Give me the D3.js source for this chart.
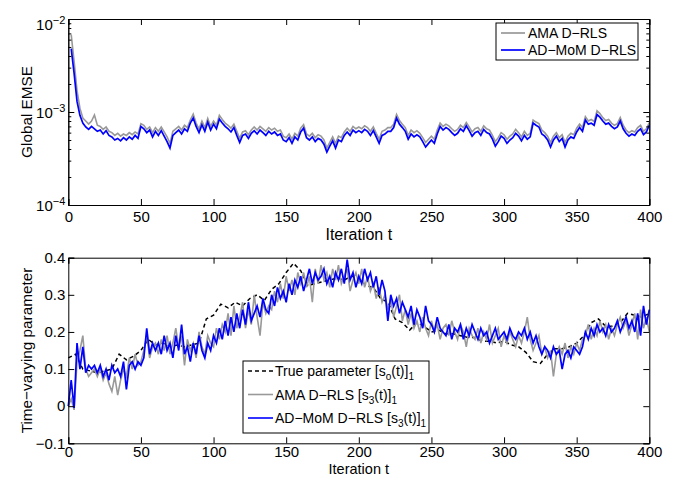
<!DOCTYPE html>
<html>
<head>
<meta charset="utf-8">
<script src="https://cdn.jsdelivr.net/npm/d3@7"></script>
<style>
  body { margin: 0; background: #fff; }
  svg { font-family: "Liberation Sans", Arial, sans-serif; }
</style>
</head>
<body>
<div id="chart"></div>
<script>
// ---- data ----
// top panel: global EMSE, every 2nd iteration
var emseIter = d3.range(2, 401, 2);
var emseAma = [
  6.8e-3, 3.5e-3, 1.7e-3, 1.1e-3, 8.6e-4, 8.0e-4, 7.4e-4, 8.0e-4, 9.3e-4, 7.2e-4,
  7.0e-4, 6.5e-4, 6.9e-4, 6.2e-4, 6.0e-4, 5.6e-4, 5.9e-4, 5.5e-4, 5.8e-4, 5.6e-4,
  6.0e-4, 5.7e-4, 6.1e-4, 5.8e-4, 7.5e-4, 7.2e-4, 6.5e-4, 6.9e-4, 6.0e-4, 6.8e-4,
  6.2e-4, 6.9e-4, 6.1e-4, 5.4e-4, 4.6e-4, 6.2e-4, 6.6e-4, 7.0e-4, 6.4e-4, 7.2e-4,
  6.8e-4, 8.2e-4, 9.5e-4, 7.6e-4, 6.6e-4, 8.0e-4, 6.8e-4, 8.5e-4, 7.0e-4, 8.0e-4,
  7.2e-4, 9.2e-4, 8.3e-4, 7.6e-4, 7.2e-4, 6.7e-4, 7.4e-4, 6.2e-4, 5.2e-4, 6.1e-4,
  6.3e-4, 5.7e-4, 6.4e-4, 6.9e-4, 6.4e-4, 7.0e-4, 6.6e-4, 6.2e-4, 6.8e-4, 6.4e-4,
  6.7e-4, 6.2e-4, 6.4e-4, 5.5e-4, 5.3e-4, 5.8e-4, 5.1e-4, 5.9e-4, 5.5e-4, 6.7e-4,
  7.3e-4, 5.8e-4, 5.5e-4, 5.9e-4, 5.3e-4, 5.7e-4, 5.5e-4, 5.0e-4, 4.1e-4, 4.7e-4,
  5.4e-4, 4.6e-4, 5.5e-4, 5.3e-4, 6.1e-4, 6.7e-4, 6.2e-4, 7.0e-4, 6.6e-4, 6.9e-4,
  6.6e-4, 7.1e-4, 6.8e-4, 6.2e-4, 6.9e-4, 5.9e-4, 5.1e-4, 6.2e-4, 6.4e-4, 6.8e-4,
  6.8e-4, 7.4e-4, 9.4e-4, 8.1e-4, 7.4e-4, 6.8e-4, 5.6e-4, 6.4e-4, 6.0e-4, 6.3e-4,
  5.9e-4, 5.3e-4, 4.7e-4, 5.1e-4, 5.5e-4, 5.1e-4, 6.4e-4, 7.6e-4, 7.0e-4, 7.4e-4,
  7.1e-4, 6.6e-4, 6.2e-4, 6.5e-4, 7.2e-4, 6.8e-4, 7.7e-4, 6.9e-4, 6.1e-4, 6.6e-4,
  6.8e-4, 6.2e-4, 7.1e-4, 6.6e-4, 6.4e-4, 5.6e-4, 4.8e-4, 5.3e-4, 6.0e-4, 5.7e-4,
  5.1e-4, 5.5e-4, 5.8e-4, 6.5e-4, 6.0e-4, 5.4e-4, 6.2e-4, 5.6e-4, 5.9e-4, 8.2e-4,
  7.8e-4, 7.5e-4, 6.4e-4, 6.0e-4, 5.5e-4, 4.7e-4, 5.5e-4, 6.0e-4, 5.3e-4, 5.7e-4,
  4.7e-4, 5.5e-4, 5.9e-4, 5.7e-4, 6.7e-4, 7.4e-4, 6.8e-4, 8.9e-4, 8.0e-4, 8.3e-4,
  7.9e-4, 1.03e-3, 9.6e-4, 8.7e-4, 8.1e-4, 8.3e-4, 7.6e-4, 7.2e-4, 7.5e-4, 8.7e-4,
  7.2e-4, 6.4e-4, 6.0e-4, 6.3e-4, 6.1e-4, 6.8e-4, 7.2e-4, 6.2e-4, 6.6e-4, 7.7e-4
];
var emseAdmom = [
  4.8e-3, 2.6e-3, 1.3e-3, 9.2e-4, 7.6e-4, 6.9e-4, 6.5e-4, 7.0e-4, 6.6e-4, 6.2e-4,
  6.4e-4, 5.8e-4, 6.3e-4, 5.6e-4, 5.4e-4, 5.0e-4, 5.2e-4, 4.9e-4, 5.3e-4, 5.0e-4,
  5.4e-4, 5.1e-4, 5.6e-4, 5.2e-4, 7.0e-4, 6.6e-4, 6.0e-4, 6.4e-4, 5.4e-4, 6.2e-4,
  5.6e-4, 6.3e-4, 5.5e-4, 4.8e-4, 4.1e-4, 5.6e-4, 6.0e-4, 6.4e-4, 5.8e-4, 6.6e-4,
  6.2e-4, 7.6e-4, 8.6e-4, 7.0e-4, 6.0e-4, 7.3e-4, 6.2e-4, 7.8e-4, 6.4e-4, 7.4e-4,
  6.6e-4, 8.4e-4, 7.6e-4, 7.0e-4, 6.6e-4, 6.1e-4, 6.8e-4, 5.6e-4, 4.7e-4, 5.6e-4,
  5.8e-4, 5.2e-4, 5.9e-4, 6.3e-4, 5.8e-4, 6.4e-4, 6.0e-4, 5.6e-4, 6.2e-4, 5.8e-4,
  6.1e-4, 5.6e-4, 5.8e-4, 5.0e-4, 4.8e-4, 5.3e-4, 4.6e-4, 5.4e-4, 5.0e-4, 6.1e-4,
  6.7e-4, 5.3e-4, 5.0e-4, 5.4e-4, 4.8e-4, 5.2e-4, 5.0e-4, 4.5e-4, 3.7e-4, 4.3e-4,
  4.9e-4, 4.1e-4, 5.0e-4, 4.8e-4, 5.6e-4, 6.1e-4, 5.6e-4, 6.4e-4, 6.0e-4, 6.3e-4,
  6.0e-4, 6.5e-4, 6.2e-4, 5.6e-4, 6.3e-4, 5.4e-4, 4.6e-4, 5.6e-4, 5.8e-4, 6.2e-4,
  6.2e-4, 6.8e-4, 8.6e-4, 7.4e-4, 6.8e-4, 6.2e-4, 5.1e-4, 5.8e-4, 5.4e-4, 5.7e-4,
  5.4e-4, 4.8e-4, 4.2e-4, 4.6e-4, 5.0e-4, 4.6e-4, 5.8e-4, 7.0e-4, 6.4e-4, 6.8e-4,
  6.5e-4, 6.0e-4, 5.6e-4, 5.9e-4, 6.6e-4, 6.2e-4, 7.1e-4, 6.3e-4, 5.5e-4, 6.0e-4,
  6.2e-4, 5.6e-4, 6.5e-4, 6.0e-4, 5.8e-4, 5.1e-4, 4.3e-4, 4.8e-4, 5.5e-4, 5.2e-4,
  4.6e-4, 5.0e-4, 5.3e-4, 5.9e-4, 5.5e-4, 4.9e-4, 5.6e-4, 5.1e-4, 5.4e-4, 7.6e-4,
  7.2e-4, 6.9e-4, 5.8e-4, 5.5e-4, 5.0e-4, 4.2e-4, 5.0e-4, 5.5e-4, 4.8e-4, 5.2e-4,
  4.2e-4, 5.0e-4, 5.4e-4, 5.2e-4, 6.1e-4, 6.8e-4, 6.2e-4, 8.2e-4, 7.4e-4, 7.6e-4,
  7.2e-4, 9.4e-4, 8.8e-4, 8.0e-4, 7.4e-4, 7.6e-4, 7.0e-4, 6.6e-4, 6.9e-4, 8.0e-4,
  6.6e-4, 5.9e-4, 5.5e-4, 5.8e-4, 5.6e-4, 6.2e-4, 6.6e-4, 5.7e-4, 6.1e-4, 7.2e-4
];

// bottom panel: true parameter every 5th iteration, estimates every 2nd
var trueIter = d3.range(0, 401, 5);
var trueParam = [
  0.13, 0.14, 0.10, 0.095, 0.09, 0.095, 0.10, 0.14, 0.125, 0.135,
  0.15, 0.18, 0.165, 0.17, 0.16, 0.165, 0.16, 0.165, 0.17, 0.235,
  0.245, 0.275, 0.265, 0.28, 0.27, 0.29, 0.30, 0.285, 0.315, 0.33,
  0.36, 0.385, 0.365, 0.325, 0.33, 0.335, 0.34, 0.345, 0.34, 0.35,
  0.345, 0.325, 0.32, 0.29, 0.28, 0.235, 0.225, 0.205, 0.225, 0.215,
  0.20, 0.205, 0.195, 0.195, 0.19, 0.185, 0.185, 0.175, 0.175, 0.17,
  0.175, 0.165, 0.16, 0.145, 0.12, 0.115, 0.14, 0.155, 0.155, 0.16,
  0.17, 0.19, 0.225, 0.235, 0.215, 0.215, 0.225, 0.25, 0.245, 0.24,
  0.25
];
var estIter = d3.range(0, 401, 2);
var estAma = [
  0.00, 0.02, -0.01, 0.12, 0.15, 0.19, 0.10, 0.08, 0.09, 0.10,
  0.08, 0.10, 0.07, 0.09, 0.06, 0.04, 0.08, 0.03, 0.07, 0.10,
  0.08, 0.13, 0.10, 0.14, 0.11, 0.12, 0.15, 0.19, 0.13, 0.16,
  0.17, 0.14, 0.18, 0.15, 0.19, 0.14, 0.17, 0.21, 0.16, 0.19,
  0.11, 0.18, 0.15, 0.17, 0.13, 0.20, 0.16, 0.14, 0.19, 0.17,
  0.16, 0.21, 0.18, 0.22, 0.20, 0.25, 0.19, 0.27, 0.21, 0.24,
  0.28, 0.21, 0.26, 0.22, 0.30, 0.24, 0.19, 0.28, 0.25, 0.27,
  0.26, 0.31, 0.28, 0.33, 0.29, 0.35, 0.31, 0.34, 0.30, 0.36,
  0.33, 0.36, 0.32, 0.35, 0.28, 0.37, 0.33, 0.38, 0.34, 0.36,
  0.32, 0.37, 0.34, 0.38, 0.33, 0.35, 0.37, 0.31, 0.34, 0.36,
  0.33, 0.37, 0.32, 0.35, 0.31, 0.33, 0.29, 0.32, 0.28, 0.30,
  0.26, 0.29, 0.24, 0.27, 0.30, 0.23, 0.26, 0.22, 0.25, 0.21,
  0.23, 0.20, 0.24, 0.21, 0.19, 0.23, 0.20, 0.22, 0.18, 0.21,
  0.22, 0.19, 0.23, 0.20, 0.18, 0.22, 0.20, 0.16, 0.21, 0.19,
  0.18, 0.21, 0.17, 0.20, 0.18, 0.22, 0.17, 0.19, 0.21, 0.16,
  0.19, 0.17, 0.20, 0.18, 0.16, 0.19, 0.17, 0.20, 0.24, 0.18,
  0.15, 0.17, 0.19, 0.14, 0.16, 0.13, 0.15, 0.08, 0.14, 0.16,
  0.14, 0.17, 0.13, 0.16, 0.14, 0.17, 0.15, 0.18, 0.19, 0.22,
  0.18, 0.21, 0.19, 0.23, 0.20, 0.22, 0.18, 0.21, 0.19, 0.22,
  0.24, 0.21, 0.23, 0.19, 0.22, 0.25, 0.18, 0.26, 0.21, 0.24,
  0.20
];
var estAdmom = [
  0.00, 0.07, -0.005, 0.17, 0.10, 0.16, 0.09, 0.11, 0.10, 0.11,
  0.09, 0.11, 0.08, 0.10, 0.07, 0.11, 0.09, 0.10, 0.08, 0.12,
  0.045, 0.11, 0.12, 0.10, 0.12, 0.11, 0.13, 0.21, 0.14, 0.17,
  0.15, 0.17, 0.14, 0.19, 0.15, 0.17, 0.13, 0.19, 0.15, 0.22,
  0.14, 0.16, 0.12, 0.17, 0.14, 0.19, 0.15, 0.13, 0.17, 0.15,
  0.19, 0.17, 0.21, 0.18, 0.23, 0.19, 0.24, 0.20, 0.25, 0.21,
  0.26, 0.22, 0.28, 0.23, 0.25, 0.27, 0.24, 0.29, 0.26, 0.25,
  0.30, 0.27, 0.32, 0.29, 0.31, 0.28, 0.33, 0.30, 0.34, 0.32,
  0.35, 0.31, 0.34, 0.37, 0.33, 0.36, 0.34, 0.35, 0.37, 0.33,
  0.35, 0.32, 0.36, 0.34, 0.37, 0.33, 0.395, 0.34, 0.36, 0.32,
  0.35, 0.33, 0.37, 0.34, 0.36, 0.32, 0.35, 0.30, 0.34, 0.31,
  0.23, 0.30, 0.27, 0.29, 0.25, 0.28, 0.26, 0.24, 0.27, 0.22,
  0.26, 0.24, 0.21, 0.27, 0.23, 0.22, 0.20, 0.24, 0.21, 0.20,
  0.19, 0.22, 0.18, 0.21, 0.20, 0.22, 0.18, 0.21, 0.19, 0.22,
  0.20, 0.18, 0.21, 0.19, 0.20, 0.17, 0.19, 0.21, 0.18, 0.19,
  0.20, 0.18, 0.21, 0.19, 0.18, 0.20, 0.19, 0.21, 0.18, 0.20,
  0.17, 0.19, 0.16, 0.14, 0.16, 0.15, 0.13, 0.16, 0.14, 0.15,
  0.10, 0.14, 0.15, 0.13, 0.16, 0.15, 0.14, 0.16, 0.20, 0.18,
  0.21, 0.19, 0.22, 0.20, 0.21, 0.19, 0.22, 0.20, 0.21, 0.23,
  0.20, 0.22, 0.24, 0.21, 0.23, 0.20, 0.25, 0.19, 0.27, 0.22,
  0.26
];

var xTicks = [0, 50, 100, 150, 200, 250, 300, 350, 400];
var emseTicks = [1e-4, 1e-3, 1e-2];
var emseTickLabels = ["\u22124", "\u22123", "\u22122"];
var paramTicks = [-0.1, 0, 0.1, 0.2, 0.3, 0.4];
var paramTickLabels = ["\u22120.1", "0", "0.1", "0.2", "0.3", "0.4"];

var grayColor = "#999999", blueColor = "#0000ff";

// ---- layout ----
var W = 679, H = 477;
var plotLeft = 68.3, plotWidth = 581;
var topPanel = {top: 19, height: 186, tickPad: 6, xLabelGap: 34.5, titleFont: "16px"};
var botPanel = {top: 257.7, height: 185.6, tickPad: 3.2, xLabelGap: 30.3, titleFont: "14.5px"};
var tickFont = "15px", yTitleFont = "15.3px", legendFont = "14px";

var svg = d3.select("#chart").append("svg")
    .attr("width", W)
    .attr("height", H);

var x = d3.scaleLinear().domain([0, 400]).range([0, plotWidth]);

// draws the MATLAB style box with inward ticks on all four sides
function drawFrame(g, y, panel, yTicks, minorTicks) {
    var h = panel.height;
    g.append("g")
        .attr("transform", "translate(0," + h + ")")
        .call(d3.axisBottom(x).tickValues(xTicks).tickSize(-6).tickPadding(panel.tickPad).tickFormat(d3.format("d")))
        .call(s => s.selectAll("text").attr("dy", "0.71em"));
    g.append("g")
        .call(d3.axisTop(x).tickValues(xTicks).tickSize(-6).tickFormat(""));
    g.append("g")
        .call(d3.axisLeft(y).tickValues(yTicks).tickSize(-6).tickFormat(""));
    g.append("g")
        .attr("transform", "translate(" + plotWidth + ",0)")
        .call(d3.axisRight(y).tickValues(yTicks).tickSize(-6).tickFormat(""));
    if (minorTicks) {
        g.append("g")
            .call(d3.axisLeft(y).tickValues(minorTicks).tickSize(-3).tickFormat(""));
        g.append("g")
            .attr("transform", "translate(" + plotWidth + ",0)")
            .call(d3.axisRight(y).tickValues(minorTicks).tickSize(-3).tickFormat(""));
    }
    g.selectAll(".domain").attr("stroke", "#000").attr("stroke-width", 1);
    g.selectAll(".tick line").attr("stroke", "#000");
    g.selectAll(".tick text")
        .attr("fill", "#000")
        .style("font-size", tickFont)
        .style("font-family", "\"Liberation Sans\", Arial, sans-serif");
}

// ---- top panel ----
var gTop = svg.append("g")
    .attr("transform", "translate(" + plotLeft + "," + topPanel.top + ")");

var yEmse = d3.scaleLog().domain([1e-4, 1e-2]).range([topPanel.height, 0]);

var emseMinor = [];
[1e-4, 1e-3].forEach(function (dec) {
    [2, 3, 4, 5, 6, 7, 8, 9].forEach(function (m) { emseMinor.push(dec * m); });
});

var emseLine = d3.line()
    .x(function (d) { return x(d[0]); })
    .y(function (d) { return yEmse(d[1]); });

gTop.append("path")
    .datum(d3.zip(emseIter, emseAma))
    .attr("fill", "none")
    .attr("stroke", grayColor)
    .attr("stroke-width", 1.6)
    .attr("d", emseLine);

gTop.append("path")
    .datum(d3.zip(emseIter, emseAdmom))
    .attr("fill", "none")
    .attr("stroke", blueColor)
    .attr("stroke-width", 1.7)
    .attr("d", emseLine);

drawFrame(gTop, yEmse, topPanel, emseTicks, emseMinor);

// power-of-ten labels (the top one sits a little below its tick, as in the figure)
emseTicks.forEach(function (v, i) {
    var t = gTop.append("text")
        .attr("x", -3)
        .attr("y", Math.max(yEmse(v), 5) + 5.5)
        .attr("text-anchor", "end")
        .style("font-size", tickFont);
    t.append("tspan").text("10");
    t.append("tspan").attr("dy", -6).style("font-size", "11px").text(emseTickLabels[i]);
});

gTop.append("text")
    .attr("x", plotWidth / 2)
    .attr("y", topPanel.height + topPanel.xLabelGap)
    .attr("text-anchor", "middle")
    .style("font-size", topPanel.titleFont)
    .text("Iteration t");

svg.append("text")
    .attr("transform", "translate(31.5," + (topPanel.top + topPanel.height / 2) + ") rotate(-90)")
    .attr("text-anchor", "middle")
    .style("font-size", yTitleFont)
    .text("Global EMSE");

// top legend
var legTop = svg.append("g").attr("transform", "translate(496,23)");
legTop.append("rect")
    .attr("width", 142).attr("height", 37)
    .attr("fill", "#fff").attr("stroke", "#000");
var topLegend = [
    {label: "AMA D\u2212RLS", color: grayColor},
    {label: "AD\u2212MoM D\u2212RLS", color: blueColor}
];
topLegend.forEach(function (d, i) {
    var yy = 10 + i * 17;
    legTop.append("line")
        .attr("x1", 5).attr("x2", 29).attr("y1", yy).attr("y2", yy)
        .attr("stroke", d.color).attr("stroke-width", 1.7);
    legTop.append("text")
        .attr("x", 32).attr("y", yy + 5)
        .style("font-size", legendFont)
        .text(d.label);
});

// ---- bottom panel ----
var gBot = svg.append("g")
    .attr("transform", "translate(" + plotLeft + "," + botPanel.top + ")");

var yParam = d3.scaleLinear().domain([-0.1, 0.4]).range([botPanel.height, 0]);

var paramLine = d3.line()
    .x(function (d) { return x(d[0]); })
    .y(function (d) { return yParam(d[1]); });

gBot.append("path")
    .datum(d3.zip(trueIter, trueParam))
    .attr("fill", "none")
    .attr("stroke", "#000")
    .attr("stroke-width", 1.5)
    .attr("stroke-dasharray", "4,3")
    .attr("d", paramLine);

gBot.append("path")
    .datum(d3.zip(estIter, estAma))
    .attr("fill", "none")
    .attr("stroke", grayColor)
    .attr("stroke-width", 1.6)
    .attr("d", paramLine);

gBot.append("path")
    .datum(d3.zip(estIter, estAdmom))
    .attr("fill", "none")
    .attr("stroke", blueColor)
    .attr("stroke-width", 1.7)
    .attr("d", paramLine);

drawFrame(gBot, yParam, botPanel, paramTicks, null);

paramTicks.forEach(function (v, i) {
    gBot.append("text")
        .attr("x", -3)
        .attr("y", yParam(v))
        .attr("dy", "0.35em")
        .attr("text-anchor", "end")
        .style("font-size", tickFont)
        .text(paramTickLabels[i]);
});

gBot.append("text")
    .attr("x", plotWidth / 2)
    .attr("y", botPanel.height + botPanel.xLabelGap)
    .attr("text-anchor", "middle")
    .style("font-size", botPanel.titleFont)
    .text("Iteration t");

svg.append("text")
    .attr("transform", "translate(31.5," + (botPanel.top + botPanel.height / 2) + ") rotate(-90)")
    .attr("text-anchor", "middle")
    .style("font-size", yTitleFont)
    .text("Time\u2212varying parameter");

// bottom legend
var legBot = svg.append("g").attr("transform", "translate(243,361)");
legBot.append("rect")
    .attr("width", 186).attr("height", 72)
    .attr("fill", "#fff").attr("stroke", "#000");
var botLegend = [
    {name: "True parameter [s", sub: "o", color: "#000", dash: "4,3"},
    {name: "AMA D\u2212RLS [s", sub: "3", color: grayColor, dash: null},
    {name: "AD\u2212MoM D\u2212RLS [s", sub: "3", color: blueColor, dash: null}
];
botLegend.forEach(function (d, i) {
    var yy = 10 + i * 23.5;
    legBot.append("line")
        .attr("x1", 5).attr("x2", 30).attr("y1", yy).attr("y2", yy)
        .attr("stroke", d.color).attr("stroke-width", 1.6)
        .attr("stroke-dasharray", d.dash);
    var t = legBot.append("text")
        .attr("x", 32).attr("y", yy + 5)
        .style("font-size", legendFont);
    t.append("tspan").text(d.name);
    t.append("tspan").attr("dy", 4).style("font-size", "10px").text(d.sub);
    t.append("tspan").attr("dy", -4).text("(t)]");
    t.append("tspan").attr("dy", 4).style("font-size", "10px").text("1");
});
</script>
</body>
</html>
